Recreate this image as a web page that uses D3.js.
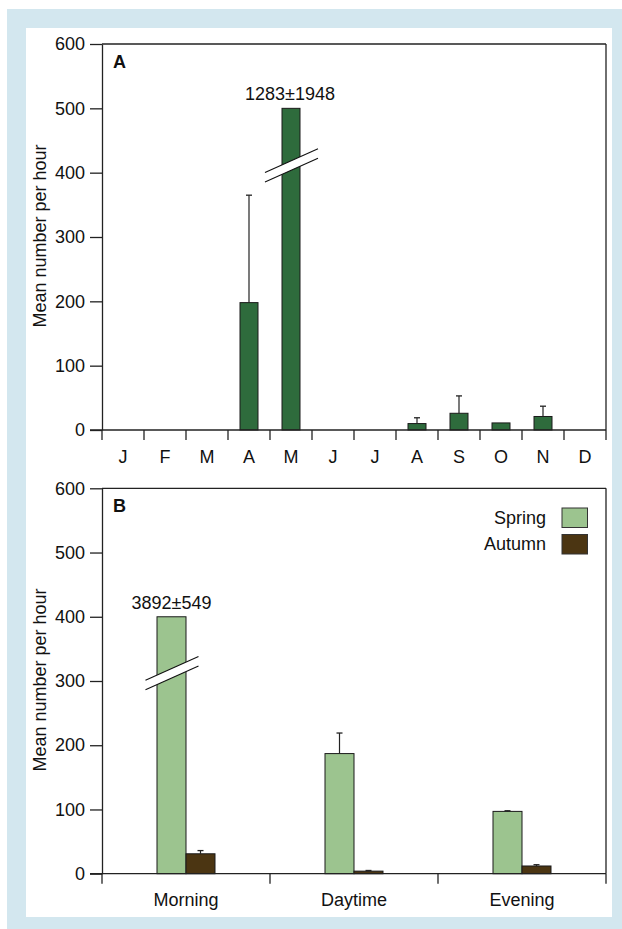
<!DOCTYPE html>
<html><head><meta charset="utf-8">
<script src="https://cdn.jsdelivr.net/npm/d3@7"></script>
<style>
html,body{margin:0;padding:0;background:#fff;}
text{font-family:"Liberation Sans",Arial,Helvetica,sans-serif;fill:#111;}
</style></head>
<body>
<svg id="c" width="622" height="929"></svg>
<script>
// ---- Panel A data ----
const months = ["J","F","M","A","M","J","J","A","S","O","N","D"];
const monthMean = [0,0,0,198,1283,0,0,10,26,11,21,0];
const monthSD   = [0,0,0,167,1948,0,0,9,27,0,16,0];
const yTicks = [0,100,200,300,400,500,600];

// ---- Panel B data ----
const periods = ["Morning","Daytime","Evening"];
const springMean = [3892,187,97];
const springSD   = [549,32,1];
const autumnMean = [31,4,12];
const autumnSD   = [5,1,2];
const seasons = ["Spring","Autumn"];

const svg = d3.select("#c");
const col = {bg:"#d3e7ef", A:"#2e6b3c", spring:"#9cc48f", autumn:"#4b3512", axis:"#222"};

svg.append("rect").attr("x",7).attr("y",9).attr("width",640).attr("height",940).attr("fill",col.bg);
svg.append("rect").attr("x",26).attr("y",28).attr("width",586).attr("height",889).attr("fill","#fff");

const X0 = 102, X1 = 606;
const FS = 18;

function frame(g, y, x, keys, labelOf){
  g.append("line").attr("x1",X0).attr("x2",X1).attr("y1",y(600)).attr("y2",y(600)).attr("stroke",col.axis).attr("stroke-width",1.3);
  g.append("line").attr("x1",X1).attr("x2",X1).attr("y1",y(600)).attr("y2",y(0)).attr("stroke",col.axis).attr("stroke-width",1.3);
  const ya = g.append("g").attr("transform",`translate(${X0},0)`)
    .call(d3.axisLeft(y).tickValues(yTicks).tickSize(12).tickPadding(5).tickSizeOuter(0));
  ya.select(".domain").attr("stroke",col.axis).attr("stroke-width",1.3);
  ya.selectAll(".tick line").attr("stroke",col.axis).attr("stroke-width",1.3);
  ya.selectAll("text").attr("font-size",FS).style("font-family","Liberation Sans, Arial, sans-serif").attr("fill","#111");
  g.append("line").attr("x1",X0-12).attr("x2",X1).attr("y1",y(0)).attr("y2",y(0)).attr("stroke",col.axis).attr("stroke-width",1.3);
  const bounds = keys.map(d=>x(d)).concat([X1]);
  g.selectAll(".xt").data(bounds).enter().append("line")
    .attr("x1",d=>d).attr("x2",d=>d).attr("y1",y(0)).attr("y2",y(0)+10)
    .attr("stroke",col.axis).attr("stroke-width",1.3);
  g.selectAll(".xl").data(keys).enter().append("text")
    .attr("x",d=>x(d)+x.bandwidth()/2).attr("y",y(0)+32.5)
    .attr("text-anchor","middle").attr("font-size",FS).text(labelOf);
}

function yLabel(g, y){
  g.append("text").attr("transform",`translate(46,${(y(600)+y(0))/2 - 1}) rotate(-90)`)
    .attr("text-anchor","middle").attr("font-size",FS).text("Mean number per hour");
}

function breakMark(g, cx, yc){
  const dx1=-26, dx2=27, s=-0.45, gap=9.5;
  const p = [[cx+dx1, yc - gap/2 + dx1*s],[cx+dx2, yc - gap/2 + dx2*s],
             [cx+dx2, yc + gap/2 + dx2*s],[cx+dx1, yc + gap/2 + dx1*s]];
  g.append("polygon").attr("points",p.map(d=>d.join(",")).join(" ")).attr("fill","#fff");
  g.append("line").attr("x1",p[0][0]).attr("y1",p[0][1]).attr("x2",p[1][0]).attr("y2",p[1][1]).attr("stroke","#111").attr("stroke-width",1.1);
  g.append("line").attr("x1",p[3][0]).attr("y1",p[3][1]).attr("x2",p[2][0]).attr("y2",p[2][1]).attr("stroke","#111").attr("stroke-width",1.1);
}

function errBar(g, cx, yTop, yErr){
  if (yTop - yErr < 0.3) return;
  g.append("line").attr("x1",cx).attr("x2",cx).attr("y1",yTop).attr("y2",yErr).attr("stroke","#222").attr("stroke-width",1.2);
  g.append("line").attr("x1",cx-3).attr("x2",cx+3).attr("y1",yErr).attr("y2",yErr).attr("stroke","#222").attr("stroke-width",1.3);
}

// ================= Panel A =================
{
  const g = svg.append("g");
  const y = d3.scaleLinear().domain([0,600]).range([430,44]);
  const keys = months.map((m,i)=>i);
  const x = d3.scaleBand().domain(keys).range([X0,X1]);
  const cap = 500, breakVal = 411;
  const bw = 18;
  months.forEach((m,i)=>{
    const v = monthMean[i];
    if (v<=0) return;
    const cx = x(i)+x.bandwidth()/2;
    const top = y(Math.min(v,cap));
    g.append("rect").attr("x",cx-bw/2).attr("y",top).attr("width",bw).attr("height",y(0)-top)
      .attr("fill",col.A).attr("stroke","#1a1a1a").attr("stroke-width",1);
    if (v>cap){
      breakMark(g, cx, y(breakVal));
      g.append("text").attr("x",cx-1).attr("y",top-8).attr("text-anchor","middle").attr("font-size",FS)
        .text(`${v}±${monthSD[i]}`);
    } else {
      errBar(g, cx, top, y(v+monthSD[i]));
    }
  });
  frame(g, y, x, keys, i=>months[i]);
  yLabel(g, y);
  g.append("text").attr("x",113).attr("y",68).attr("font-size",FS).attr("font-weight","bold").text("A");
}

// ================= Panel B =================
{
  const g = svg.append("g");
  const y = d3.scaleLinear().domain([0,600]).range([873.7,488.3]);
  const x = d3.scaleBand().domain(periods).range([X0,X1]);
  const cap = 400, breakVal = 312;
  const bw = 29;
  const series = [
    {name:seasons[0], mean:springMean, sd:springSD, color:col.spring, off:-1},
    {name:seasons[1], mean:autumnMean, sd:autumnSD, color:col.autumn, off:0}
  ];
  series.forEach(s=>{
    periods.forEach((p,i)=>{
      const v = s.mean[i];
      const bx = x(p)+x.bandwidth()/2 + s.off*bw;
      const cx = bx + bw/2;
      const top = y(Math.min(v,cap));
      g.append("rect").attr("x",bx).attr("y",top).attr("width",bw).attr("height",y(0)-top)
        .attr("fill",s.color).attr("stroke","#1a1a1a").attr("stroke-width",1);
      if (v>cap){
        breakMark(g, cx, y(breakVal));
        g.append("text").attr("x",cx).attr("y",top-8).attr("text-anchor","middle").attr("font-size",FS)
          .text(`${v}±${s.sd[i]}`);
      } else {
        errBar(g, cx, top, y(v+s.sd[i]));
      }
    });
  });
  frame(g, y, x, periods, d=>d);
  yLabel(g, y);
  g.append("text").attr("x",113).attr("y",512).attr("font-size",FS).attr("font-weight","bold").text("B");
  const lg = g.append("g");
  series.forEach((s,i)=>{
    const yy = 508 + i*26.5;
    lg.append("rect").attr("x",562).attr("y",yy).attr("width",25.5).attr("height",19.5)
      .attr("fill",s.color).attr("stroke","#333").attr("stroke-width",1);
    lg.append("text").attr("x",546).attr("y",yy+15.5).attr("text-anchor","end").attr("font-size",FS).text(s.name);
  });
}
</script>
</body></html>
